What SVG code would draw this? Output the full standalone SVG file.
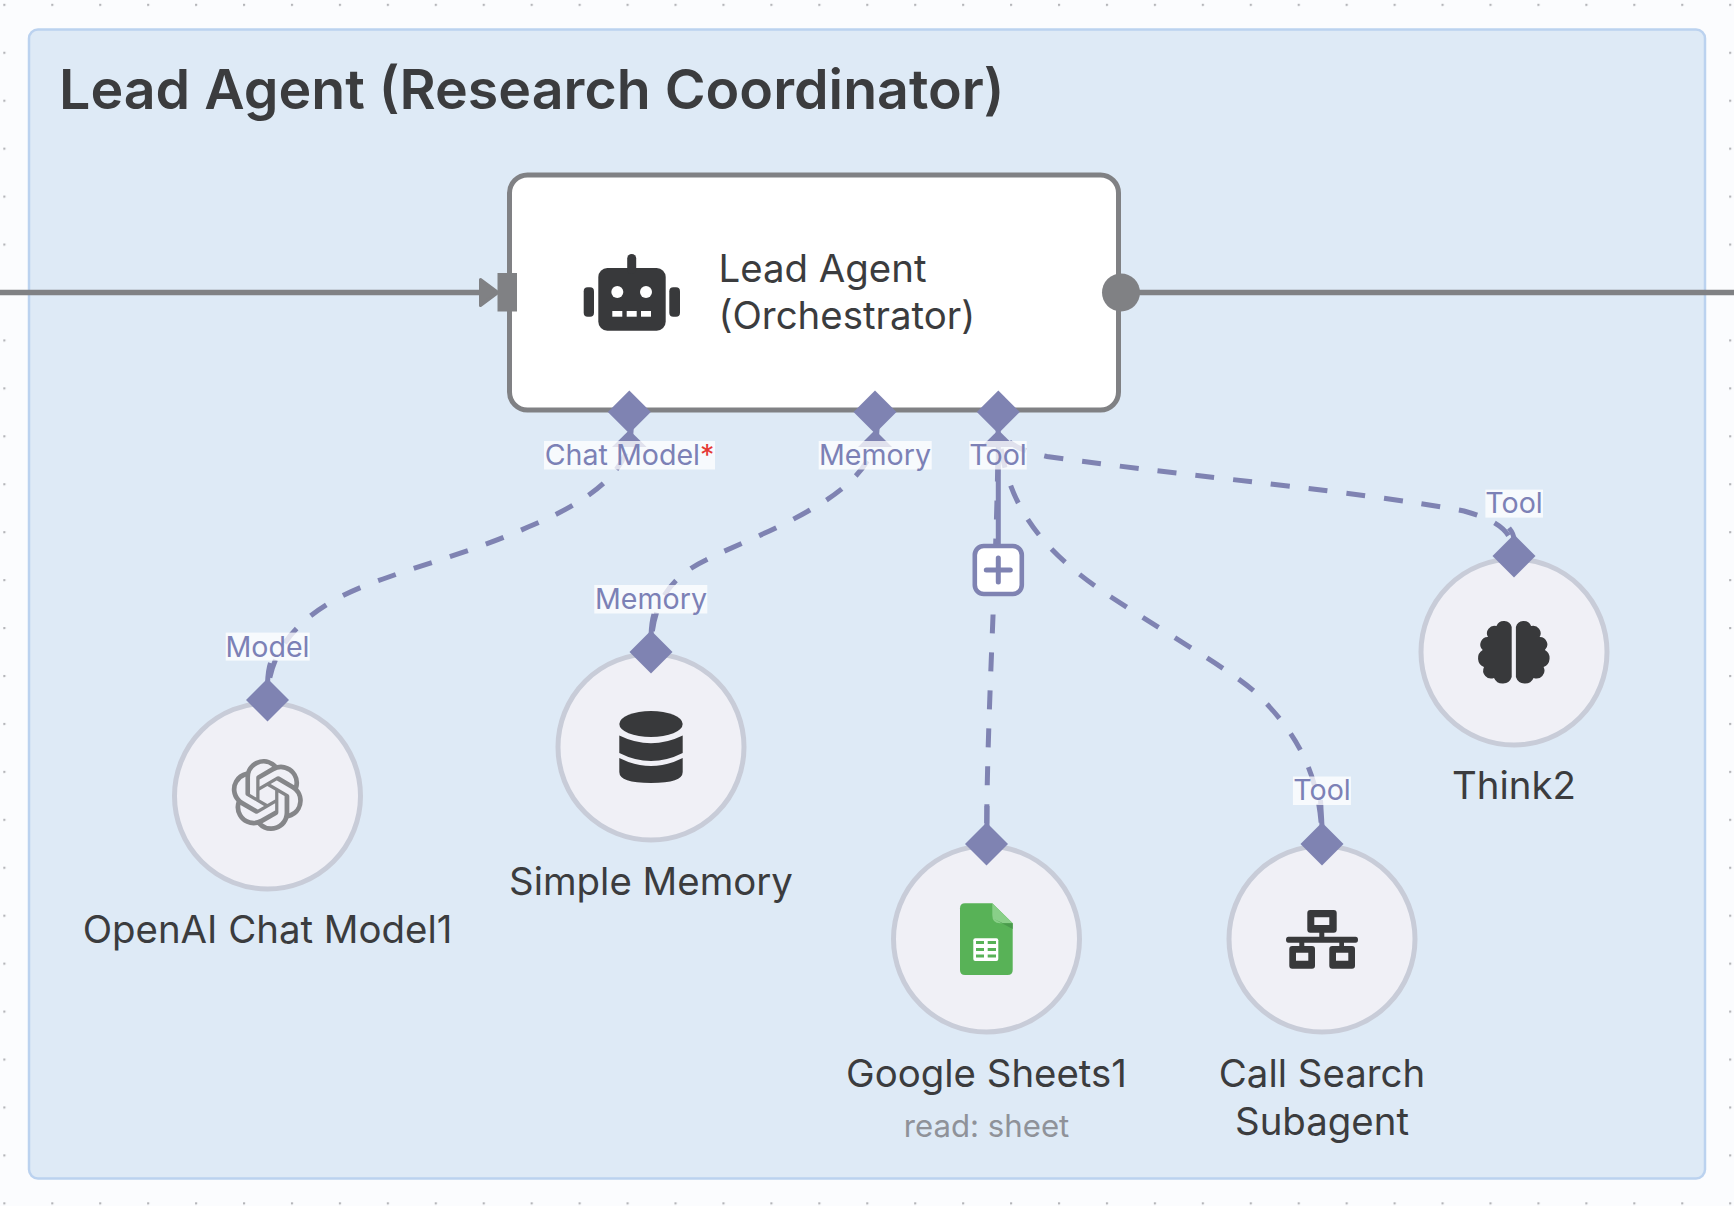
<svg xmlns="http://www.w3.org/2000/svg" width="1734" height="1206" viewBox="0 0 1734 1206">
<style>
text{font-family:"Inter","Noto Sans",sans-serif}
.title{font-size:55.5px;font-weight:600;fill:#3b3c3e}
.name{font-size:38.4px;fill:#3b3c3e}
.sub{font-size:31.2px;fill:#8f9299;text-anchor:middle}
.mid{text-anchor:middle}
.lbl{font-size:28.6px;fill:#7c81b6;text-anchor:middle}
.bg{fill:#ffffff;fill-opacity:.76}
.port{fill:#7f83b2}
.wire{fill:none;stroke:#808184;stroke-width:5.5}
.dash{fill:none;stroke:#7f83b2;stroke-width:5;stroke-dasharray:19 19}
.stub{fill:none;stroke:#7f83b2;stroke-width:5}
.disc{fill:#f0f0f6;stroke:#c8ccd8;stroke-width:5}
.ico{fill:#38393b}
</style>
<defs>
<pattern id="dots" x="3.3" y="3.8" width="47.94" height="47.94" patternUnits="userSpaceOnUse"><circle cx="1" cy="1" r="1.3" fill="#b4b5b9"/></pattern>
<polygon id="dia" points="0,-21.5 21.5,0 0,21.5 -21.5,0"/>
</defs>
<rect width="1734" height="1206" fill="#fbfcfe"/>
<rect width="1734" height="1206" fill="url(#dots)"/>
<g id="group-lead">
<rect x="29" y="29.5" width="1676" height="1149" rx="9" fill="#deeaf6" stroke="#bbd2ef" stroke-width="2.5"/>
<text class="title" x="59" y="109">Lead Agent (Research Coordinator)</text>
</g>
<g id="connectors">
<path class="wire" d="M0 292.500H482"/>
<path class="wire" d="M1121 292.500H1734"/>
<path class="dash" stroke-dashoffset="32" d="M629.300 410C640 460 605 495 528 527C480 549 430 562 383 579C340 594 267.500 625 267.500 700"/>
<path class="stub" d="M270.500 663Q268 670 267.500 684"/>
<path class="dash" stroke-dashoffset="23" d="M875 410C885 450 860 482 810 510C770 533 735 545 706 560C675 575 651 598 651 652"/>
<path class="stub" d="M654 614Q651.500 622 651 636"/>
<path class="dash" stroke-dashoffset="3" d="M998.300 410C998 440 1010 448 1047 456.500C1200 478 1350 490 1464 511C1495 520 1514 530 1514 556"/>
<path class="stub" d="M1509 528Q1514 534 1514 540"/>
<path class="stub" d="M998.300 440V546"/>
<path class="dash" stroke-dashoffset="23.500" d="M998.300 410C998 560 987 700 986.500 844"/>
<path class="stub" d="M987 806V826"/>
<path class="dash" stroke-dashoffset="37" d="M998.300 410C998 500 1040 550 1111 597C1180 642 1230 670 1255 692C1300 735 1322 780 1322 844"/>
<path class="stub" d="M1320.500 800L1322 826"/>
</g>
<g id="node-lead-agent">
<rect x="509.500" y="175" width="609" height="235" rx="18" fill="#ffffff" stroke="#808184" stroke-width="5"/>
<path d="M480.500 279.500L498 292.500L480.500 305.500Z" fill="#808184" stroke="#808184" stroke-width="3" stroke-linejoin="round"/>
<rect x="497.500" y="273" width="19.500" height="38.500" fill="#808184"/>
<circle cx="1121" cy="292.500" r="19" fill="#808184"/>
<g class="ico">
<rect x="598.300" y="268" width="67.400" height="62.700" rx="9"/>
<rect x="627.200" y="254" width="9" height="20" rx="4.500"/>
<rect x="583.700" y="287.300" width="10.300" height="29.400" rx="4"/>
<rect x="669.300" y="287.300" width="10.700" height="29.400" rx="4"/>
</g>
<circle cx="617.300" cy="292" r="6" fill="#fff"/><circle cx="646" cy="292" r="6" fill="#fff"/>
<rect x="612.300" y="311" width="10" height="5.700" fill="#fff"/><rect x="626.700" y="311" width="10" height="5.700" fill="#fff"/><rect x="641" y="311" width="10" height="5.700" fill="#fff"/>
<text class="name" x="718.500" y="282">Lead Agent</text>
<text class="name" x="718.500" y="329">(Orchestrator)</text>
<use href="#dia" x="629.300" y="412" class="port"/>
<use href="#dia" x="875" y="412" class="port"/>
<use href="#dia" x="998.300" y="412" class="port"/>
<polygon class="port" points="629.300,430 612,447 646.600,447"/>
<polygon class="port" points="875,430 858,447 892,447"/>
<polygon class="port" points="998.300,430 981,447 1015.600,447"/>
<rect class="bg" x="544" y="441" width="171" height="28.500"/>
<text class="lbl" x="629.500" y="465">Chat Model<tspan fill="#e53935">*</tspan></text>
<rect class="bg" x="818.700" y="441" width="113" height="28.500"/>
<text class="lbl" x="875" y="465">Memory</text>
<rect class="bg" x="969.300" y="441" width="57.400" height="28.500"/>
<text class="lbl" x="998" y="465">Tool</text>
</g>
<g id="add-tool">
<rect x="974.800" y="546" width="47" height="48" rx="9" fill="#ffffff" stroke="#7f83b2" stroke-width="4.600"/>
<path d="M998.300 558V582M986.300 570H1010.300" stroke="#7f83b2" stroke-width="5" stroke-linecap="round" fill="none"/>
</g>
<g id="node-openai">
<circle class="disc" cx="267.500" cy="796" r="93"/>
<use href="#dia" x="267.500" y="700" class="port"/>
<rect class="bg" x="225.700" y="632.600" width="84" height="28"/>
<text class="lbl" x="267.500" y="656.500">Model</text>
<path transform="translate(231.300 759) scale(3)" fill="#858689" d="M22.2819 9.8211a5.9847 5.9847 0 0 0-.5157-4.9108 6.0462 6.0462 0 0 0-6.5098-2.9A6.0651 6.0651 0 0 0 4.9807 4.1818a5.9847 5.9847 0 0 0-3.9977 2.9 6.0462 6.0462 0 0 0 .7427 7.0966 5.98 5.98 0 0 0 .511 4.9107 6.051 6.051 0 0 0 6.5146 2.9001A5.9847 5.9847 0 0 0 13.2599 24a6.0557 6.0557 0 0 0 5.7718-4.2058 5.9894 5.9894 0 0 0 3.9977-2.9001 6.0557 6.0557 0 0 0-.7475-7.0729zm-9.022 12.6081a4.4755 4.4755 0 0 1-2.8764-1.0408l.1419-.0804 4.7783-2.7582a.7948.7948 0 0 0 .3927-.6813v-6.7369l2.02 1.1686a.071.071 0 0 1 .038.052v5.5826a4.504 4.504 0 0 1-4.4945 4.4944zm-9.6607-4.1254a4.4708 4.4708 0 0 1-.5346-3.0137l.142.0852 4.783 2.7582a.7712.7712 0 0 0 .7806 0l5.8428-3.3685v2.3324a.0804.0804 0 0 1-.0332.0615L9.74 19.9502a4.4992 4.4992 0 0 1-6.1408-1.6464zM2.3408 7.8956a4.485 4.485 0 0 1 2.3655-1.9728V11.6a.7664.7664 0 0 0 .3879.6765l5.8144 3.3543-2.0201 1.1685a.0757.0757 0 0 1-.071 0l-4.8303-2.7865A4.504 4.504 0 0 1 2.3408 7.872zm16.5963 3.8558L13.1038 8.364 15.1192 7.2a.0757.0757 0 0 1 .071 0l4.8303 2.7913a4.4944 4.4944 0 0 1-.6765 8.1042v-5.6772a.79.79 0 0 0-.407-.667zm2.0107-3.0231l-.142-.0852-4.7735-2.7818a.7759.7759 0 0 0-.7854 0L9.409 9.2297V6.8974a.0662.0662 0 0 1 .0284-.0615l4.8303-2.7866a4.4992 4.4992 0 0 1 6.6802 4.66zM8.3065 12.863l-2.02-1.1638a.0804.0804 0 0 1-.038-.0567V6.0742a4.4992 4.4992 0 0 1 7.3757-3.4537l-.142.0805L8.704 5.459a.7948.7948 0 0 0-.3927.6813zm1.0976-2.3654l2.602-1.4998 2.6069 1.4998v2.9994l-2.5974 1.4997-2.6067-1.4997Z"/>
<text class="name mid" x="267.500" y="943">OpenAI Chat Model1</text>
</g>
<g id="node-memory">
<circle class="disc" cx="651" cy="747" r="93"/>
<use href="#dia" x="651" y="652" class="port"/>
<rect class="bg" x="594.300" y="585" width="113" height="28.500"/>
<text class="lbl" x="651" y="609">Memory</text>
<g class="ico">
<ellipse cx="651" cy="724" rx="31.700" ry="13"/>
<path d="M619.300 735.500Q651 751 682.700 735.500V753Q651 769 619.300 753Z"/>
<path d="M619.300 758Q651 774 682.700 758V772Q682.700 783 651 783Q619.300 783 619.300 772Z"/>
</g>
<text class="name mid" x="651" y="895">Simple Memory</text>
</g>
<g id="node-sheets">
<circle class="disc" cx="986.500" cy="939" r="93"/>
<use href="#dia" x="986.500" y="844" class="port"/>
<path d="M965 903.300H992.300L1012.700 923.300V970Q1012.700 975 1007.700 975H965Q960 975 960 970V908.300Q960 903.300 965 903.300Z" fill="#58b257"/>
<path d="M992.300 903.300L1012.700 923.300H1000Q992.300 923.300 992.300 915Z" fill="#89cf88"/>
<path d="M994 919L1012.700 929V923.300H1003Z" fill="#4a9a4c"/>
<rect x="973.300" y="938.300" width="25" height="22.700" rx="2" fill="#fff"/>
<path d="M976 942.500H984M987.700 942.500H996M976 949.500H984M987.700 949.500H996M976 956H984M987.700 956H996" stroke="#58b257" stroke-width="3" fill="none"/>
<text class="name mid" x="986.500" y="1086.500">Google Sheets1</text>
<text class="sub" x="986.500" y="1136.500">read: sheet</text>
</g>
<g id="node-subagent">
<circle class="disc" cx="1322" cy="939" r="93"/>
<use href="#dia" x="1322" y="844" class="port"/>
<rect class="bg" x="1292.900" y="776.500" width="58" height="28.500"/>
<text class="lbl" x="1322" y="800">Tool</text>
<path class="ico" fill-rule="evenodd" d="M1310.300 910H1333.700Q1336.700 910 1336.700 913V929.700Q1336.700 932.700 1333.700 932.700H1324.300V936.700H1355.500Q1358 936.700 1358 939.700Q1358 942.700 1355.500 942.700H1344V946H1352Q1355 946 1355 949V965.700Q1355 968.700 1352 968.700H1332.300Q1329.300 968.700 1329.300 965.700V949Q1329.300 946 1332.300 946H1339.300V942.700H1304.300V946H1312Q1315 946 1315 949V965.700Q1315 968.700 1312 968.700H1292.300Q1289.300 968.700 1289.300 965.700V949Q1289.300 946 1292.300 946H1299.300V942.700H1288.500Q1286 942.700 1286 939.700Q1286 936.700 1288.500 936.700H1319.300V932.700H1310.300Q1307.300 932.700 1307.300 929.700V913Q1307.300 910 1310.300 910ZM1314.300 917.300V925H1329.300V917.300ZM1296 952.700V960.700H1308.300V952.700ZM1336 952.700V960.700H1348.300V952.700Z"/>
<text class="name mid" x="1322" y="1086.500">Call Search</text>
<text class="name mid" x="1322" y="1134.500">Subagent</text>
</g>
<g id="node-think">
<circle class="disc" cx="1514" cy="652" r="93"/>
<use href="#dia" x="1514" y="556" class="port"/>
<rect class="bg" x="1485.400" y="489.600" width="57.600" height="28"/>
<text class="lbl" x="1514" y="513">Tool</text>
<g class="ico">
<path id="brain" d="M1511.700 627A8 8 0 0 0 1496.500 626A7.500 7.500 0 0 0 1488 637A7.500 7.500 0 0 0 1482.700 650A9.500 9.500 0 0 0 1484 667A8 8 0 0 0 1494 678A9.500 9.500 0 0 0 1511.700 677Z"/>
<use href="#brain" transform="matrix(-1 0 0 1 3027.600 0)"/>
</g>
<text class="name mid" x="1514" y="799">Think2</text>
</g>
</svg>
